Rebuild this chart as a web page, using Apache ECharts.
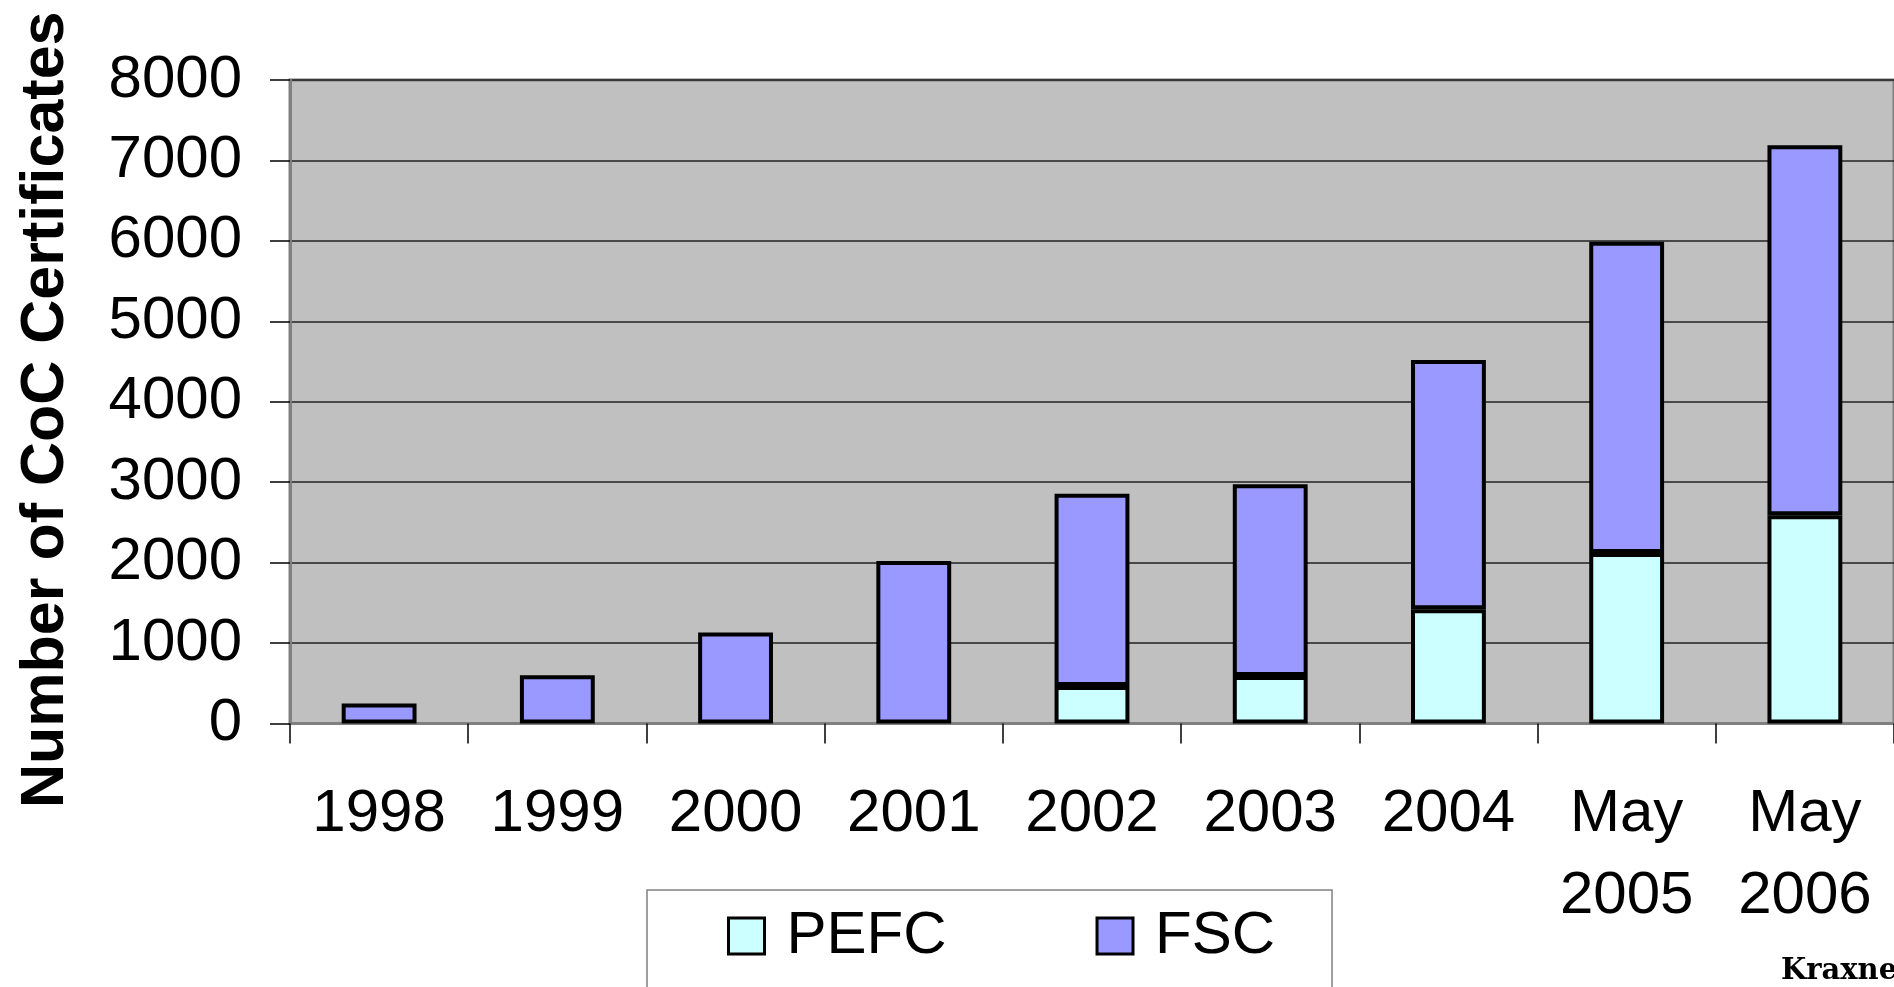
<!DOCTYPE html>
<html>
<head>
<meta charset="utf-8">
<script src="https://cdn.jsdelivr.net/npm/echarts@6/dist/echarts.min.js"></script>
<style>
html,body{margin:0;padding:0;background:#fff;}
#c{width:1894px;height:987px;}
</style>
</head>
<body>
<div id="c"></div>
<script>
const categories = ['1998','1999','2000','2001','2002','2003','2004','May\n2005','May\n2006'];
const pefc = [null, null, null, null, 465, 590, 1420, 2120, 2590];
const fsc  = [250, 600, 1130, 2020, 2390, 2385, 3100, 3870, 4600];
const yTicks = { min: 0, max: 8000, interval: 1000 };
const yTitle = 'Number of CoC Certificates';
const sourceNote = 'Kraxne';

const FONT = "'Liberation Sans', Arial, sans-serif";
const chart = echarts.init(document.getElementById('c'), null, { renderer: 'canvas' });

chart.setOption({
  animation: false,
  backgroundColor: '#ffffff',
  grid: {
    left: 290, top: 80, width: 1610, height: 643.5,
    show: true, backgroundColor: '#C0C0C0', borderColor: '#808080', borderWidth: 3
  },
  legend: {
    left: 647, top: 890,
    orient: 'horizontal',
    backgroundColor: '#fff',
    borderColor: '#808080', borderWidth: 1.5,
    padding: [16, 57, 60, 80],
    itemWidth: 36, itemHeight: 36, itemGap: 149,
    icon: 'rect',
    itemStyle: { borderColor: '#000', borderWidth: 3 },
    textStyle: { fontFamily: FONT, fontSize: 60, lineHeight: 36, color: '#000', padding: [0, 0, 17, 17] },
    data: ['PEFC', 'FSC']
  },
  xAxis: {
    type: 'category',
    data: categories,
    boundaryGap: true,
    axisLine: { show: true, lineStyle: { color: '#808080', width: 3 } },
    axisTick: { show: true, length: 20, lineStyle: { color: '#000', width: 1.5 } },
    axisLabel: { interval: 0, margin: 50, fontFamily: FONT, fontSize: 60, lineHeight: 82, color: '#000' }
  },
  yAxis: {
    type: 'value',
    min: yTicks.min, max: yTicks.max, interval: yTicks.interval,
    name: yTitle,
    nameLocation: 'middle',
    nameGap: 213,
    nameTextStyle: { fontFamily: FONT, fontSize: 61, fontWeight: 'bold', color: '#000', padding: [0, 16, 0, 0] },
    axisLine: { show: true, lineStyle: { color: '#808080', width: 3 } },
    axisTick: { show: true, length: 20, lineStyle: { color: '#000', width: 1.5 } },
    axisLabel: { margin: 48, fontFamily: FONT, fontSize: 60, color: '#000', formatter: v => String(v) },
    splitLine: { show: true, lineStyle: { color: '#222', width: 1.5 } }
  },
  series: [
    {
      name: 'PEFC', type: 'bar', stack: 'total', data: pefc, barWidth: '42%',
      itemStyle: { color: '#CCFFFF', borderColor: '#000', borderWidth: 4 }
    },
    {
      name: 'FSC', type: 'bar', stack: 'total', data: fsc, barWidth: '42%',
      itemStyle: { color: '#9999FF', borderColor: '#000', borderWidth: 4 }
    }
  ],
  graphic: [
    {
      type: 'text', left: 1781, top: 957,
      style: { text: sourceNote, fontFamily: "'DejaVu Serif', serif", fontWeight: 'bold', fontSize: 29, fill: '#000' }
    }
  ]
});
</script>
</body>
</html>
